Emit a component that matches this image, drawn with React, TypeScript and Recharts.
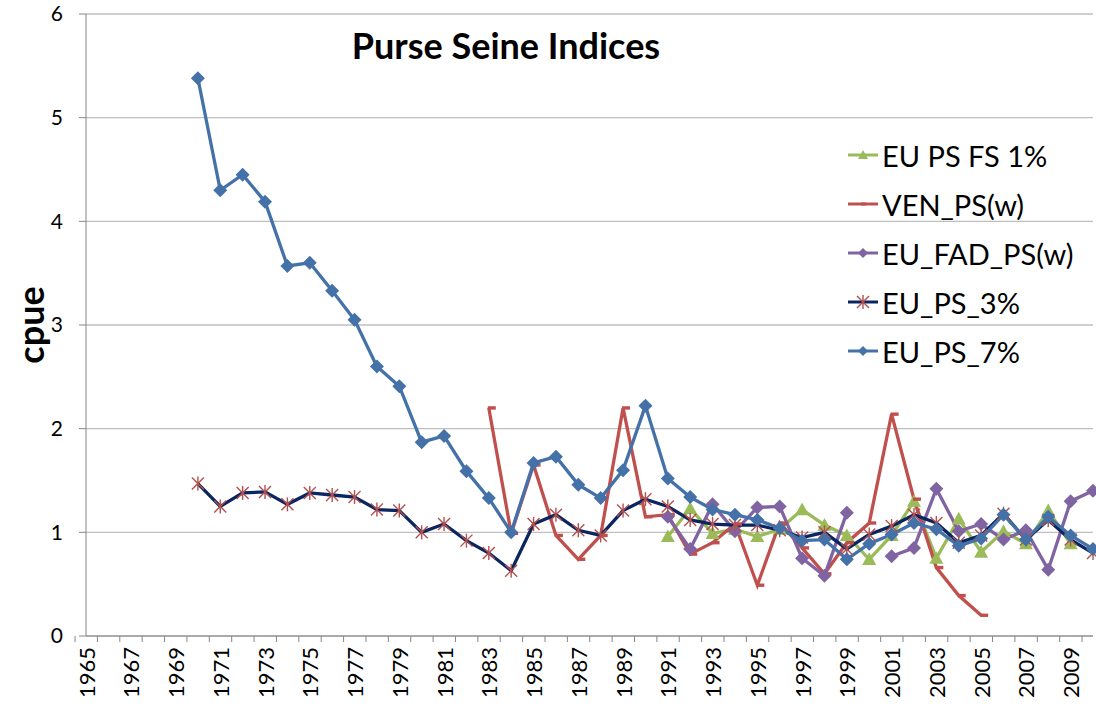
import React from 'react';
import { LineChart, Line, XAxis, YAxis, CartesianGrid, Customized } from 'recharts';

const YEARS = ['1965','1966','1967','1968','1969','1970','1971','1972','1973','1974','1975','1976','1977','1978','1979','1980','1981','1982','1983','1984','1985','1986','1987','1988','1989','1990','1991','1992','1993','1994','1995','1996','1997','1998','1999','2000','2001','2002','2003','2004','2005','2006','2007','2008','2009','2010'];

const N5 = [null, null, null, null, null];
const N18 = [null, null, null, null, null, null, null, null, null, null, null, null, null, null, null, null, null, null];

const EU_PS_FS_1 = [...N5, ...N5, ...N5, ...N5, ...N5, null, 0.96, 1.23, 0.99, 1.03, 0.96, 1.03, 1.22, 1.07, 0.97, 0.74, 0.97, 1.30, 0.75, 1.13, 0.81, 1.01, 0.89, 1.21, 0.89, null];
const VEN_PS = [...N18, 2.20, 0.99, 1.65, 0.97, 0.74, 0.97, 2.20, 1.15, 1.17, 0.79, 0.90, 1.08, 0.49, 1.09, 0.85, 0.60, 0.90, 1.09, 2.14, 1.32, 0.66, 0.39, 0.20, null, null, null, null, null];
const EU_FAD_PS = [...N5, ...N5, ...N5, ...N5, ...N5, null, 1.15, 0.84, 1.27, 1.01, 1.24, 1.25, 0.75, 0.58, 1.19, null, 0.77, 0.85, 1.42, 1.01, 1.08, 0.93, 1.02, 0.64, 1.30, 1.40];
const EU_PS_3 = [...N5, 1.47, 1.25, 1.38, 1.39, 1.27, 1.38, 1.36, 1.34, 1.22, 1.21, 1.00, 1.08, 0.92, 0.80, 0.63, 1.08, 1.17, 1.02, 0.97, 1.21, 1.32, 1.25, 1.12, 1.08, 1.07, 1.07, 1.02, 0.95, 1.00, 0.84, 0.98, 1.06, 1.17, 1.09, 0.90, 0.97, 1.18, 0.93, 1.12, 0.93, 0.80];
const EU_PS_7 = [...N5, 5.38, 4.30, 4.45, 4.19, 3.57, 3.60, 3.33, 3.05, 2.60, 2.41, 1.87, 1.93, 1.59, 1.33, 1.00, 1.67, 1.73, 1.46, 1.33, 1.60, 2.22, 1.52, 1.34, 1.22, 1.17, 1.12, 1.04, 0.92, 0.93, 0.74, 0.89, 0.98, 1.09, 1.03, 0.87, 0.94, 1.17, 0.93, 1.15, 0.97, 0.84];

const Y_TICKS = [0, 1, 2, 3, 4, 5, 6];

const data = YEARS.map((year, i) => ({
  year,
  fs1: EU_PS_FS_1[i],
  ven: VEN_PS[i],
  fad: EU_FAD_PS[i],
  ps3: EU_PS_3[i],
  ps7: EU_PS_7[i],
}));

const FONT = 'Lato, "Open Sans", sans-serif';
const W = 1096;
const H = 711;
const MARGIN = { top: 14, right: 3, left: 0, bottom: 0 };
const YAXIS_W = 86;
const XAXIS_H = 75;
const BAND = (W - MARGIN.left - YAXIS_W - MARGIN.right) / YEARS.length;

const GREEN = '#9BBB59';
const RED = '#C0504D';
const PURPLE = '#8064A2';
const NAVY = '#0B2560';
const ASTER = '#B4504E';
const BLUE = '#4472A8';

const Triangle = (p: any) => {
  const { cx, cy } = p;
  if (cx == null || cy == null || p.value == null) return <g />;
  const s = 7;
  return <polygon points={`${cx},${cy - s} ${cx + s},${cy + s * 0.8} ${cx - s},${cy + s * 0.8}`} fill={GREEN} />;
};
const Dash = (p: any) => {
  const { cx, cy } = p;
  if (cx == null || cy == null || p.value == null) return <g />;
  return <rect x={cx - 1} y={cy - 1.7} width={8} height={3.4} fill={RED} />;
};
const makeDiamond = (color: string) => (p: any) => {
  const { cx, cy } = p;
  if (cx == null || cy == null || p.value == null) return <g />;
  const s = 7;
  return <polygon points={`${cx},${cy - s} ${cx + s},${cy} ${cx},${cy + s} ${cx - s},${cy}`} fill={color} />;
};
const Asterisk = (p: any) => {
  const { cx, cy } = p;
  if (cx == null || cy == null || p.value == null) return <g />;
  const s = 6;
  return (
    <g stroke={ASTER} strokeWidth={1.4}>
      <line x1={cx - s} y1={cy - s} x2={cx + s} y2={cy + s} />
      <line x1={cx - s} y1={cy + s} x2={cx + s} y2={cy - s} />
      <line x1={cx} y1={cy - s - 1} x2={cx} y2={cy + s + 1} />
    </g>
  );
};

const SERIES = [
  { key: 'fs1', name: 'EU PS FS 1%', color: GREEN, dot: Triangle },
  { key: 'ven', name: 'VEN_PS(w)', color: RED, dot: Dash },
  { key: 'fad', name: 'EU_FAD_PS(w)', color: PURPLE, dot: makeDiamond(PURPLE) },
  { key: 'ps3', name: 'EU_PS_3%', color: NAVY, dot: Asterisk },
  { key: 'ps7', name: 'EU_PS_7%', color: BLUE, dot: makeDiamond(BLUE) },
];

const XTick = (props: any) => {
  const { x, y, payload, index } = props;
  const half = BAND / 2;
  return (
    <g>
      <line x1={x - half} y1={y} x2={x - half} y2={y + 6} stroke="#868686" />
      {index === YEARS.length - 1 && <line x1={x + half} y1={y} x2={x + half} y2={y + 6} stroke="#868686" />}
      {index % 2 === 0 && (
        <text
          x={x}
          y={y + 11}
          transform={`rotate(-90, ${x}, ${y + 11})`}
          textAnchor="end"
          dominantBaseline="central"
          fontSize={22}
          fontFamily={FONT}
          fill="#000"
        >
          {payload.value}
        </text>
      )}
    </g>
  );
};

const Overlay = () => {
  const rowH = 49;
  const lx = 848;
  const ly = 155;
  return (
    <g>
      <text x={506} y={45} textAnchor="middle" dominantBaseline="central" fontSize={36} fontWeight="bold" fontFamily={FONT} fill="#000">
        Purse Seine Indices
      </text>
      <text
        x={30}
        y={325}
        transform="rotate(-90, 30, 325)"
        textAnchor="middle"
        dominantBaseline="central"
        fontSize={36}
        fontWeight="bold"
        fontFamily={FONT}
        fill="#000"
      >
        cpue
      </text>
      {SERIES.map((s, i) => {
        const cy = ly + rowH * i;
        const Dot = s.dot as any;
        return (
          <g key={s.key}>
            <line x1={lx} y1={cy} x2={lx + 30} y2={cy} stroke={s.color} strokeWidth={3} />
            {s.key === 'ven' ? (
              <rect x={lx + 13} y={cy - 1.5} width={5} height={3} fill={RED} />
            ) : s.key === 'fs1' ? (
              <polygon points={`${lx + 15},${cy - 5} ${lx + 20},${cy + 4} ${lx + 10},${cy + 4}`} fill={GREEN} />
            ) : s.key === 'ps3' ? (
              <Asterisk cx={lx + 15} cy={cy} value={1} />
            ) : (
              <polygon points={`${lx + 15},${cy - 5} ${lx + 20},${cy} ${lx + 15},${cy + 5} ${lx + 10},${cy}`} fill={s.color} />
            )}
            <text x={lx + 34} y={cy} dominantBaseline="central" fontSize={29} fontFamily={FONT} fill="#000">
              {s.name}
            </text>
          </g>
        );
      })}
    </g>
  );
};

export default function App() {
  return (
    <div style={{ position: 'absolute', left: 0, top: 0, width: W, height: H, background: '#fff' }}>
      <LineChart width={W} height={H} data={data} margin={MARGIN}>
        <CartesianGrid vertical={false} stroke="#BFBFBF" strokeWidth={1.3} />
        <XAxis
          dataKey="year"
          height={XAXIS_H}
          interval={0}
          tickLine={false}
          tickSize={0}
          tickMargin={0}
          tick={<XTick />}
          axisLine={{ stroke: '#868686' }}
        />
        <YAxis
          width={YAXIS_W}
          domain={[0, 6]}
          ticks={Y_TICKS}
          interval={0}
          tickSize={7}
          tickMargin={16}
          axisLine={{ stroke: '#868686' }}
          tickLine={{ stroke: '#868686' }}
          tick={{ fontSize: 21, fontFamily: FONT, fill: '#000' }}
        />
        {SERIES.map((s) => (
          <Line
            key={s.key}
            type="linear"
            dataKey={s.key}
            name={s.name}
            stroke={s.color}
            strokeWidth={3.3}
            dot={s.dot}
            activeDot={false}
            connectNulls={false}
            isAnimationActive={false}
          />
        ))}
        <Customized component={Overlay} />
      </LineChart>
    </div>
  );
}
